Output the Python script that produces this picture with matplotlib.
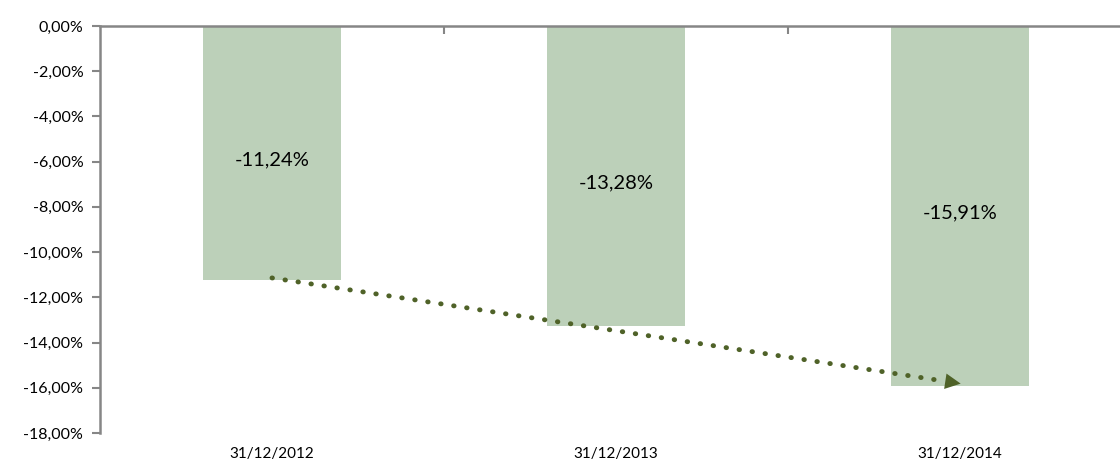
import numpy as np
import matplotlib.pyplot as plt

dates = ['31/12/2012', '31/12/2013', '31/12/2014']
values = [-11.24, -13.28, -15.91]
labels = ['-11,24%', '-13,28%', '-15,91%']
yticks = [0, -2, -4, -6, -8, -10, -12, -14, -16, -18]

plt.rcParams['font.family'] = ['Lato', 'DejaVu Sans']

fig = plt.figure(figsize=(11.2, 4.71), dpi=100)
ax = fig.add_axes([100 / 1120, 38 / 471, 1032 / 1120, 407 / 471])

x = np.arange(len(values))
ax.bar(x, values, width=0.4, color='#bcd0b9', zorder=2)

for xi, v, lab in zip(x, values, labels):
    ax.text(xi, v / 2 - 0.3, lab, ha='center', va='center', fontsize=14.5, color='black', zorder=4)

# linear trend line
k, b = np.polyfit(x, values, 1)
x0, x1 = 0, 2
ax.plot([x0, x1 - 0.04], [b + k * x0, b + k * (x1 - 0.04)], color='#4f6228', lw=3.5,
        linestyle=(0, (0.1, 2.6)), dash_capstyle='round', zorder=3)
ax.annotate('', xy=(x1 + 0.01, b + k * (x1 + 0.01)), xytext=(x1 - 0.06, b + k * (x1 - 0.06)),
            arrowprops=dict(arrowstyle='-|>', color='#4f6228', lw=0, mutation_scale=28), zorder=3)

ax.set_xlim(-0.5, 2.5)
ax.set_ylim(-18, 0)
ax.set_yticks(yticks)
ax.set_yticklabels([('%.2f%%' % t).replace('.', ',') for t in yticks])

ax.set_xticks(x)
ax.set_xticklabels(dates)
ax.set_xticks([0.5, 1.5], minor=True)
ax.tick_params(axis='x', which='major', length=0, pad=10, labelsize=11)
ax.tick_params(axis='x', which='minor', bottom=False, top=True, direction='in', length=6,
               width=1.5, color='#868686')
ax.tick_params(axis='y', length=6, width=1.5, color='#868686', labelsize=11.5, pad=6)

for s in ['right', 'bottom']:
    ax.spines[s].set_visible(False)
for s in ['top', 'left']:
    ax.spines[s].set_color('#868686')
    ax.spines[s].set_linewidth(1.8)

fig.savefig('out.png', dpi=100)
